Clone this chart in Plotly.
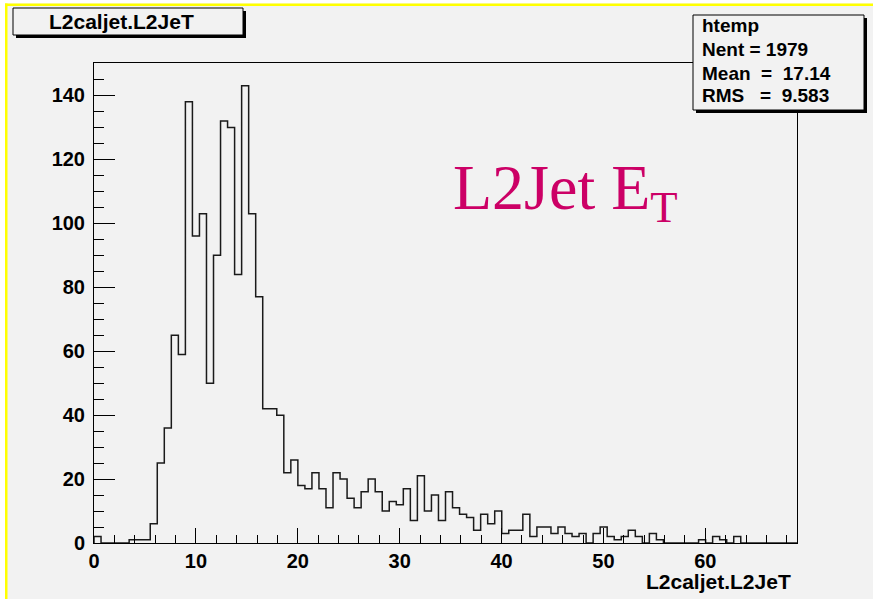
import numpy as np
import plotly.graph_objects as go

# ---- data ----
x_min = 0.0
x_max = 69.0
n_bins = 100
counts = [
    2, 0, 0, 0, 0, 1, 1, 1, 6, 25,
    36, 65, 59, 138, 96, 103, 50, 90, 132, 130,
    84, 143, 103, 77, 42, 42, 40, 22, 26, 18,
    17, 22, 17, 11, 22, 20, 14, 11, 16, 20,
    16, 10, 13, 12, 17, 7, 21, 10, 15, 7,
    16, 11, 9, 8, 4, 9, 6, 10, 3, 4,
    4, 9, 2, 5, 5, 3, 5, 3, 2, 3,
    0, 3, 5, 2, 1, 2, 4, 2, 0, 3,
    1, 0, 0, 0, 0, 0, 1, 0, 2, 1,
    0, 2, 0, 0, 0, 0, 0, 0, 0, 0,
]
x_tick_vals = [0, 10, 20, 30, 40, 50, 60]
y_tick_vals = [0, 20, 40, 60, 80, 100, 120, 140]
hist_title = "L2caljet.L2JeT"
stats_lines = ["htemp", "Nent = 1979", "Mean  =  17.14", "RMS   =  9.583"]
label_text = "L2Jet E<sub>T</sub>"
y_max = 1.05 * max(counts)

# ---- step outline ----
edges = np.linspace(x_min, x_max, n_bins + 1)
xs = [edges[0]]
ys = [0]
for i, c in enumerate(counts):
    xs += [edges[i], edges[i + 1]]
    ys += [c, c]
xs.append(edges[-1])
ys.append(0)

W, H = 873, 599
L, R, T, B = 94, 797, 63, 543
def px(x):
    return (x - L) / (R - L)
def py(y):
    return (B - y) / (B - T)

GRAY = "#f2f2f2"
FONT = "Liberation Sans"

fig = go.Figure()
fig.add_trace(go.Scatter(x=xs, y=ys, mode="lines",
                         line=dict(color="#1a1a1a", width=1.5),
                         hoverinfo="skip", showlegend=False))

shapes = []
# white margin and yellow border
shapes.append(dict(type="rect", xref="paper", yref="paper", x0=px(-5), x1=px(5), y0=py(-5), y1=py(W), fillcolor="white", line_width=0, layer="below"))
shapes.append(dict(type="rect", xref="paper", yref="paper", x0=px(-5), x1=px(W + 5), y0=py(-5), y1=py(3.5), fillcolor="white", line_width=0, layer="below"))
shapes.append(dict(type="rect", xref="paper", yref="paper", x0=px(5), x1=px(W + 5), y0=py(3.5), y1=py(6), fillcolor="#ffff00", line_width=0, layer="below"))
shapes.append(dict(type="rect", xref="paper", yref="paper", x0=px(5), x1=px(7.5), y0=py(3.5), y1=py(H + 5), fillcolor="#ffff00", line_width=0, layer="below"))

def box(x0, y0, x1, y1):
    # shadow then box
    shapes.append(dict(type="rect", xref="paper", yref="paper", x0=px(x0 + 3), x1=px(x1 + 3), y0=py(y0 + 3), y1=py(y1 + 3), fillcolor="black", line_width=0, layer="above"))
    shapes.append(dict(type="rect", xref="paper", yref="paper", x0=px(x0), x1=px(x1), y0=py(y0), y1=py(y1), fillcolor=GRAY, line=dict(color="black", width=1), layer="above"))

box(13, 8, 243, 35)
box(693, 15, 864, 110)

annotations = []
annotations.append(dict(xref="paper", yref="paper", x=px(121), y=py(22), text=hist_title, showarrow=False,
                        xanchor="center", yanchor="middle", font=dict(family=FONT, size=21, color="black", weight="bold")))
stat_y = [26, 49.5, 73, 95.5]
for t, yy in zip(stats_lines, stat_y):
    annotations.append(dict(xref="paper", yref="paper", x=px(700), y=py(yy), text=t.replace(" ", "&nbsp;"), showarrow=False,
                            xanchor="left", yanchor="middle", font=dict(family=FONT, size=19, color="black", weight="bold")))
annotations.append(dict(xref="paper", yref="paper", x=px(793), y=py(581), text=hist_title, showarrow=False,
                        xanchor="right", yanchor="middle", font=dict(family=FONT, size=21, color="black", weight="bold")))
annotations.append(dict(xref="paper", yref="paper", x=px(451), y=py(192), text=label_text, showarrow=False,
                        xanchor="left", yanchor="middle", font=dict(family="Liberation Serif", size=64, color="#cc0066")))

fig.update_layout(
    width=W, height=H,
    margin=dict(l=L, r=W - R, t=T, b=H - B),
    paper_bgcolor=GRAY, plot_bgcolor=GRAY,
    shapes=shapes, annotations=annotations,
    showlegend=False,
)
fig.update_xaxes(range=[x_min, x_max], tickvals=x_tick_vals, ticks="inside", ticklen=15, tickcolor="black", tickwidth=1,
                 minor=dict(dtick=2, tick0=0, ticks="inside", ticklen=8, tickcolor="black", tickwidth=1),
                 showline=True, linecolor="black", linewidth=1, mirror=True, showgrid=False, zeroline=False,
                 tickfont=dict(family=FONT, size=20, color="black", weight="bold"), ticklabelstandoff=0)
fig.update_yaxes(range=[0, y_max], tickvals=y_tick_vals, ticks="inside", ticklen=21, tickcolor="black", tickwidth=1,
                 minor=dict(dtick=5, tick0=0, ticks="inside", ticklen=10, tickcolor="black", tickwidth=1),
                 showline=True, linecolor="black", linewidth=1, mirror=True, showgrid=False, zeroline=False,
                 tickfont=dict(family=FONT, size=20, color="black", weight="bold"), ticklabelstandoff=4)

fig.write_html("out.html", config={"displayModeBar": False},
               post_script="document.body.style.margin='0';document.body.style.overflow='hidden';")
